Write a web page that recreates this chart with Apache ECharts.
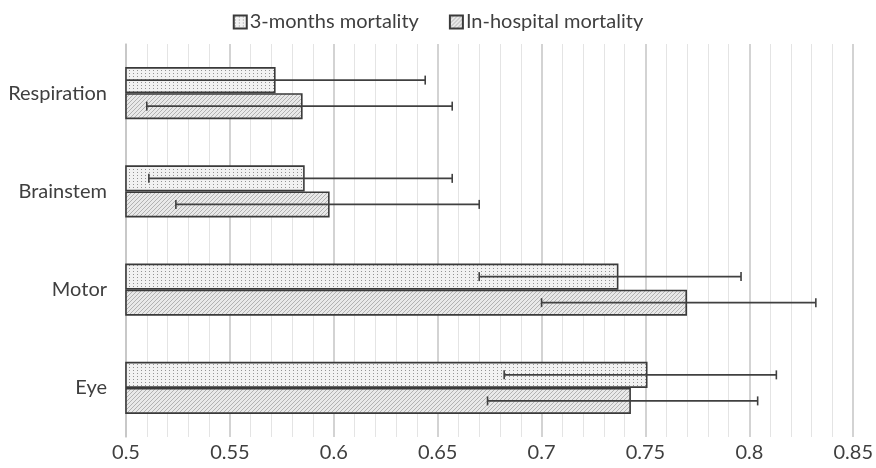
<!DOCTYPE html>
<html>
<head>
<meta charset="utf-8">
<script src="https://cdn.jsdelivr.net/npm/echarts@6/dist/echarts.min.js"></script>
<style>html,body{margin:0;padding:0;background:#fff}#c{width:876px;height:468px}</style>
</head>
<body>
<div id="c"></div>
<script>
// Data (categories listed bottom to top)
const categories = ['Eye', 'Motor', 'Brainstem', 'Respiration'];
const seriesNames = ['3-months mortality', 'In-hospital mortality'];
const threeMonths = [0.751, 0.737, 0.586, 0.572];
const threeMonthsLow = [0.682, 0.670, 0.511, 0.499];
const threeMonthsHigh = [0.813, 0.796, 0.657, 0.644];
const inHospital = [0.743, 0.770, 0.598, 0.585];
const inHospitalLow = [0.674, 0.700, 0.524, 0.510];
const inHospitalHigh = [0.804, 0.832, 0.670, 0.657];
const xTicks = [0.5, 0.55, 0.6, 0.65, 0.7, 0.75, 0.8, 0.85];

function dotPattern() {
  const c = document.createElement('canvas');
  c.width = 4; c.height = 3;
  const g = c.getContext('2d');
  g.fillStyle = '#f2f2f2'; g.fillRect(0, 0, 4, 3);
  g.fillStyle = '#939393'; g.fillRect(1, 1, 1, 1);
  return c;
}
function hatchPattern() {
  const c = document.createElement('canvas');
  c.width = 4; c.height = 4;
  const g = c.getContext('2d');
  g.fillStyle = '#e9e9e9'; g.fillRect(0, 0, 4, 4);
  g.strokeStyle = '#ababab'; g.lineWidth = 0.9;
  g.beginPath();
  g.moveTo(0, 4); g.lineTo(4, 0);
  g.moveTo(-1, 1); g.lineTo(1, -1);
  g.moveTo(3, 5); g.lineTo(5, 3);
  g.stroke();
  return c;
}

const CAT_GAP = 0.47;
const errColor = '#404040';

function makeErr(seriesIdx, low, high) {
  return {
    type: 'custom',
    z: 10,
    silent: true,
    data: categories.map((c, i) => [i, low[i], high[i]]),
    renderItem: function (params, api) {
      const ci = api.value(0);
      const lo = api.value(1), hi = api.value(2);
      const band = api.size([0, 1])[1];
      const bw = band * (1 - CAT_GAP) / 2;
      const center = api.coord([hi, ci])[1];
      const y = center - bw + bw / 2 + seriesIdx * bw;
      const xmin = api.coord([xTicks[0], ci])[0];
      let x1 = api.coord([lo, ci])[0];
      const x2 = api.coord([hi, ci])[0];
      const children = [];
      let capLo = true;
      if (x1 < xmin) { x1 = xmin; capLo = false; }
      const st = { stroke: errColor, lineWidth: 1.6 };
      children.push({ type: 'line', shape: { x1: x1, y1: y, x2: x2, y2: y }, style: st });
      if (capLo) children.push({ type: 'line', shape: { x1: x1, y1: y - 4.5, x2: x1, y2: y + 4.5 }, style: st });
      children.push({ type: 'line', shape: { x1: x2, y1: y - 4.5, x2: x2, y2: y + 4.5 }, style: st });
      return { type: 'group', children: children };
    }
  };
}

const font = 'Lato, "Open Sans", sans-serif';
const txtColor = '#3f3f3f';
const chart = echarts.init(document.getElementById('c'), null, { renderer: 'canvas' });
chart.setOption({
  animation: false,
  textStyle: { fontFamily: font },
  legend: {
    data: seriesNames,
    top: 7,
    left: 'center',
    itemWidth: 13,
    itemHeight: 13,
    itemGap: 30,
    icon: 'rect',
    textStyle: { fontSize: 20, color: txtColor, fontFamily: font, padding: [0, 0, 0, -2] }
  },
  grid: { left: 126, right: 19, top: 44, bottom: 31, containLabel: false },
  xAxis: {
    type: 'value',
    min: xTicks[0],
    max: xTicks[xTicks.length - 1],
    interval: 0.05,
    axisLine: { show: false },
    axisTick: { show: false },
    axisLabel: { fontSize: 20, color: txtColor, margin: 6, fontFamily: font },
    splitLine: { show: true, lineStyle: { color: '#c4c4c4', width: 1.5 } },
    minorTick: { show: false, splitNumber: 5 },
    minorSplitLine: { show: true, lineStyle: { color: '#e4e4e4', width: 1 } }
  },
  yAxis: {
    type: 'category',
    data: categories,
    axisLine: { show: true, lineStyle: { color: '#c4c4c4', width: 1.5 } },
    axisTick: { show: false },
    axisLabel: { fontSize: 20, color: txtColor, margin: 19, fontFamily: font },
    splitLine: { show: false }
  },
  series: [
    {
      name: seriesNames[0],
      type: 'bar',
      data: threeMonths,
      barGap: '0%',
      barCategoryGap: (CAT_GAP * 100) + '%',
      itemStyle: { color: { image: dotPattern(), repeat: 'repeat' }, borderColor: '#3a3a3a', borderWidth: 1.6 }
    },
    {
      name: seriesNames[1],
      type: 'bar',
      data: inHospital,
      barGap: '0%',
      barCategoryGap: (CAT_GAP * 100) + '%',
      itemStyle: { color: { image: hatchPattern(), repeat: 'repeat' }, borderColor: '#3a3a3a', borderWidth: 1.6 }
    },
    makeErr(0, threeMonthsLow, threeMonthsHigh),
    makeErr(1, inHospitalLow, inHospitalHigh)
  ]
});
</script>
</body>
</html>
